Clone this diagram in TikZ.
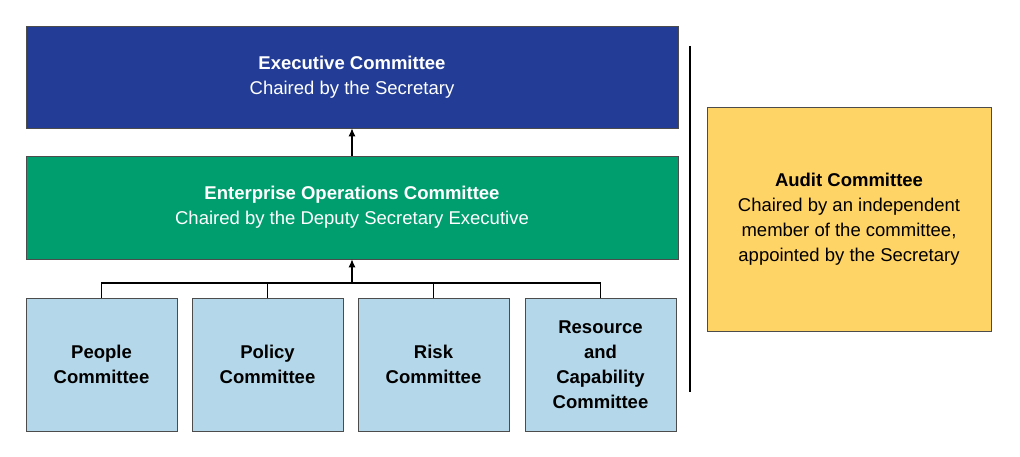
\documentclass[tikz,border=0pt]{standalone}
\usepackage{fontspec}
\setmainfont{Liberation Sans}
\usetikzlibrary{arrows.meta}
\definecolor{execblue}{HTML}{233D96}
\definecolor{eocgreen}{HTML}{009E6E}
\definecolor{subblue}{HTML}{B4D8EA}
\definecolor{audityellow}{HTML}{FFD466}
\begin{document}
\begin{tikzpicture}[x=1pt,y=-1pt,
  box/.style={draw=black!70,line width=0.6pt,inner sep=0pt,align=center,font=\fontsize{18.5}{25}\selectfont},
  conn/.style={line width=1.2pt},
  arr/.style={conn,-{Latex[length=8pt,width=7pt]}}]
\useasboundingbox (0,0) rectangle (1020,457);
\node[box,fill=execblue,text=white,minimum width=652pt,minimum height=102pt] (exec) at (352,77) {\textbf{Executive Committee}\\Chaired by the Secretary};
\node[box,fill=eocgreen,text=white,minimum width=652pt,minimum height=103pt] (eoc) at (352,207.5) {\textbf{Enterprise Operations Committee}\\Chaired by the Deputy Secretary Executive};
\foreach \n/\x/\t in {p/101.5/{People\\Committee},po/267.5/{Policy\\Committee},r/433.5/{Risk\\Committee},rc/600.5/{Resource\\and\\Capability\\Committee}}
  \node[box,fill=subblue,font=\fontsize{18.5}{25}\selectfont\bfseries,minimum width=151pt,minimum height=133pt] (\n) at (\x,364.5) {\t};
\coordinate (j) at (352,283);
\draw[conn] (p.north) |- (j) -| (rc.north);
\draw[conn] (po.north) -- (po.north |- j);
\draw[conn] (r.north) -- (r.north |- j);
\draw[arr] (j) -- (eoc.south);
\draw[arr] (eoc.north) -- (exec.south);
\coordinate (lt) at (690,46); \coordinate (lb) at (690,392);
\draw[line width=1.5pt] (lt) -- (lb);
\node[box,fill=audityellow,minimum width=284pt,minimum height=224pt] (audit) at (849,219) {\textbf{Audit Committee}\\Chaired by an independent\\member of the committee,\\appointed by the Secretary};
\end{tikzpicture}
\end{document}
